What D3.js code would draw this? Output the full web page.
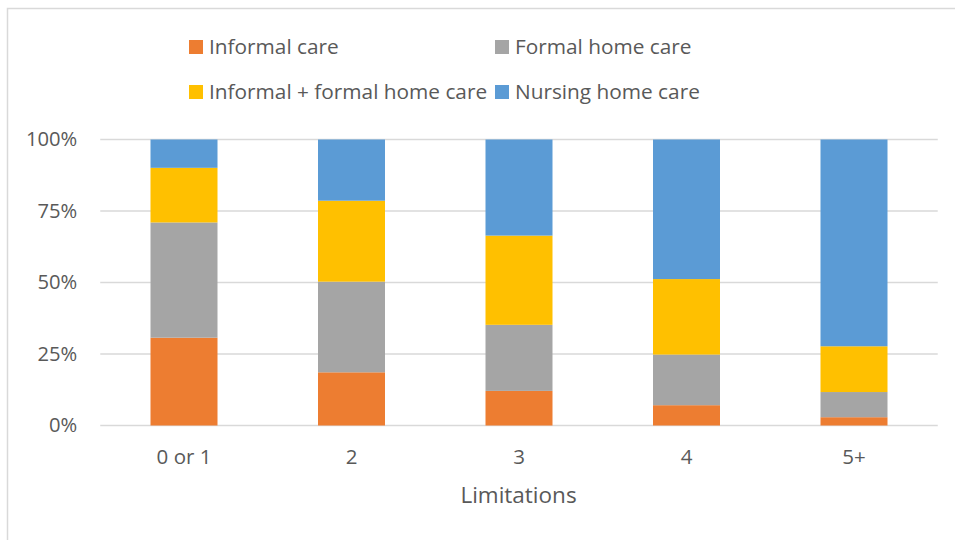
<!DOCTYPE html>
<html>
<head>
<meta charset="utf-8">
<script src="https://cdn.jsdelivr.net/npm/d3@7"></script>
<style>
  html, body { margin: 0; padding: 0; background: #fff; }
  svg { display: block; font-family: "Open Sans", sans-serif; }
</style>
</head>
<body>
<svg id="chart" width="955" height="540"></svg>
<script>
// Care arrangement by number of limitations (shares of 100%)
const categories = ["0 or 1", "2", "3", "4", "5+"];
const seriesNames = ["Informal care", "Formal home care", "Informal + formal home care", "Nursing home care"];
const informalCare = [30.7, 18.6, 12.1, 7.1, 2.9];
const formalHomeCare = [40.3, 31.7, 23.1, 17.7, 8.8];
const informalFormalCare = [19.1, 28.3, 31.2, 26.4, 16.0];
const nursingHomeCare = [9.9, 21.4, 33.6, 48.8, 72.3];
const yTicks = [0, 25, 50, 75, 100];
const colors = ["#ED7D31", "#A5A5A5", "#FFC000", "#5B9BD5"];

const svg = d3.select("#chart");

// outer chart frame
svg.append("rect")
  .attr("x", 7.5).attr("y", 8.5)
  .attr("width", 1000).attr("height", 600)
  .attr("fill", "none").attr("stroke", "#d9d9d9").attr("stroke-width", 1.5);

const plot = { left: 100.25, right: 937.75, top: 139.5, bottom: 425.5 };

const x = d3.scaleBand().domain(categories).range([plot.left, plot.right]).padding(0);
const y = d3.scaleLinear().domain([0, 100]).range([plot.bottom, plot.top]);
const barW = x.bandwidth() * 0.4;

// gridlines
svg.append("g")
  .selectAll("line")
  .data(yTicks)
  .join("line")
  .attr("x1", plot.left).attr("x2", plot.right)
  .attr("y1", d => y(d)).attr("y2", d => y(d))
  .attr("stroke", "#d9d9d9").attr("stroke-width", 1.5);

// y axis labels
const yAxis = svg.append("g")
  .attr("transform", `translate(${plot.left},0)`)
  .call(d3.axisLeft(y).tickValues(yTicks).tickFormat(d => d + "%").tickSize(0).tickPadding(23));
yAxis.select(".domain").remove();
yAxis.selectAll("text").attr("fill", "#595959").style("font-size", "20.2px").style("font-family", "Open Sans, sans-serif");

// stacked bars
const rows = categories.map((c, i) => ({
  cat: c,
  [seriesNames[0]]: informalCare[i],
  [seriesNames[1]]: formalHomeCare[i],
  [seriesNames[2]]: informalFormalCare[i],
  [seriesNames[3]]: nursingHomeCare[i]
}));
const stacked = d3.stack().keys(seriesNames)(rows);

svg.append("g")
  .selectAll("g")
  .data(stacked)
  .join("g")
  .attr("fill", (d, i) => colors[i])
  .selectAll("rect")
  .data(d => d)
  .join("rect")
  .attr("x", d => x(d.data.cat) + (x.bandwidth() - barW) / 2)
  .attr("width", barW)
  .attr("y", d => y(d[1]))
  .attr("height", d => y(d[0]) - y(d[1]));

// x axis labels
const xAxis = svg.append("g")
  .attr("transform", `translate(0,${plot.bottom})`)
  .call(d3.axisBottom(x).tickSize(0).tickPadding(24));
xAxis.select(".domain").remove();
xAxis.selectAll("text").attr("fill", "#595959").style("font-size", "20.5px").style("font-family", "Open Sans, sans-serif");

// axis title
svg.append("text")
  .attr("x", 518.5).attr("y", 503)
  .attr("text-anchor", "middle")
  .attr("fill", "#595959").style("font-size", "22.5px")
  .text("Limitations");

// legend
const legendPos = [
  { x: 189, y: 40 }, { x: 495, y: 40 },
  { x: 189, y: 85 }, { x: 495, y: 85 }
];
const legend = svg.append("g")
  .selectAll("g")
  .data(seriesNames)
  .join("g")
  .attr("transform", (d, i) => `translate(${legendPos[i].x},${legendPos[i].y})`);
legend.append("rect")
  .attr("width", 14).attr("height", 14)
  .attr("fill", (d, i) => colors[i]);
legend.append("text")
  .attr("x", 20).attr("y", 14)
  .attr("fill", "#595959").style("font-size", "20.8px")
  .text(d => d);
</script>
</body>
</html>
